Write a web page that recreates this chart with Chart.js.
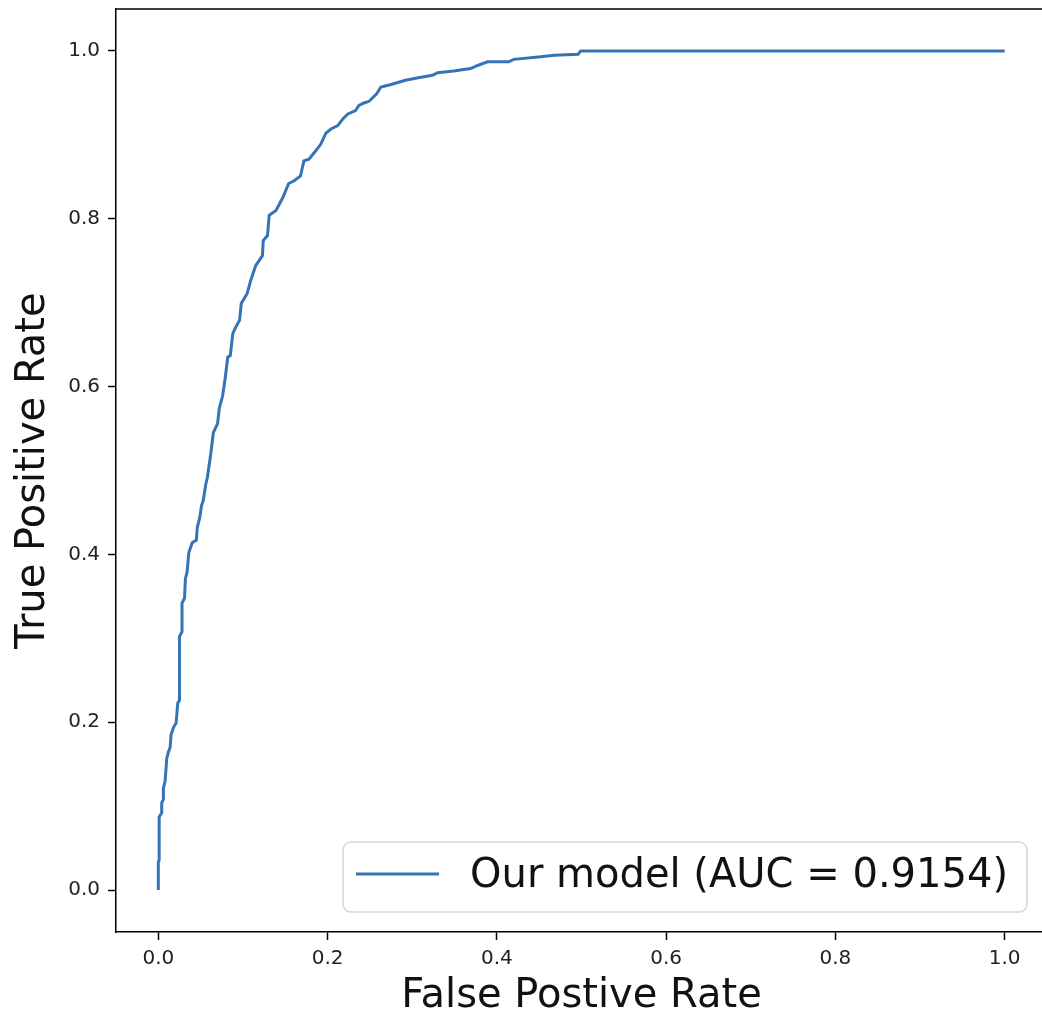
<!DOCTYPE html>
<html>
<head>
<meta charset="utf-8">
<script src="https://cdn.jsdelivr.net/npm/chart.js@4.4.1/dist/chart.umd.min.js"></script>
<style>
  html, body { margin: 0; padding: 0; background: #fff; overflow: hidden; }
  #wrap { position: absolute; left: 0; top: -11px; width: 1052px; height: 1027px; }
</style>
</head>
<body>
<div id="wrap"><canvas id="rocChart"></canvas></div>
<script>
// ROC curve
const fpr = [0, 0, 0.001, 0.001, 0.004, 0.004, 0.006, 0.006, 0.008, 0.010,
  0.012, 0.014, 0.015, 0.018, 0.021, 0.023, 0.025, 0.025, 0.028, 0.028,
  0.031, 0.032, 0.034, 0.036, 0.040, 0.045, 0.046, 0.049, 0.051, 0.053,
  0.056, 0.058, 0.062, 0.065, 0.070, 0.072, 0.076, 0.079, 0.082, 0.085,
  0.088, 0.091, 0.096, 0.098, 0.105, 0.109, 0.115, 0.123, 0.124, 0.129,
  0.131, 0.139, 0.147, 0.154, 0.160, 0.168, 0.172, 0.178, 0.186, 0.192,
  0.198, 0.204, 0.212, 0.218, 0.224, 0.233, 0.237, 0.243, 0.249, 0.258,
  0.263, 0.275, 0.292, 0.307, 0.324, 0.330, 0.349, 0.369, 0.378, 0.389,
  0.414, 0.420, 0.452, 0.468, 0.496, 0.499, 1.0];
const tpr = [0, 0.033, 0.036, 0.087, 0.092, 0.104, 0.108, 0.121, 0.130, 0.157,
  0.165, 0.170, 0.185, 0.194, 0.199, 0.223, 0.226, 0.302, 0.308, 0.342,
  0.348, 0.371, 0.379, 0.402, 0.414, 0.417, 0.432, 0.444, 0.458, 0.464,
  0.483, 0.492, 0.520, 0.545, 0.556, 0.574, 0.589, 0.610, 0.635, 0.637,
  0.663, 0.670, 0.679, 0.699, 0.711, 0.726, 0.744, 0.756, 0.774, 0.780,
  0.804, 0.810, 0.825, 0.842, 0.845, 0.851, 0.869, 0.871, 0.881, 0.889,
  0.902, 0.907, 0.911, 0.919, 0.925, 0.929, 0.935, 0.938, 0.940, 0.949,
  0.957, 0.960, 0.965, 0.968, 0.971, 0.974, 0.976, 0.979, 0.983, 0.987,
  0.987, 0.990, 0.993, 0.995, 0.996, 1.0, 1.0];
const tickValues = [0, 0.2, 0.4, 0.6, 0.8, 1.0];
const seriesLabel = "Our model (AUC = 0.9154)";
const xTitle = "False Postive Rate";
const yTitle = "True Positive Rate";

const FONT = "'DejaVu Sans', sans-serif";
const lineColor = '#3474b6';

// top/right spines like matplotlib
const framePlugin = {
    id: 'frame',
    afterDatasetsDraw(chart) {
        const { ctx, chartArea } = chart;
        ctx.save();
        ctx.strokeStyle = '#000';
        ctx.lineWidth = 1.5;
        ctx.beginPath();
        ctx.moveTo(chartArea.left, chartArea.top);
        ctx.lineTo(chartArea.right, chartArea.top);
        ctx.lineTo(chartArea.right, chartArea.bottom);
        ctx.stroke();
        ctx.restore();
    }
};

// legend box in the lower right corner
const legendPlugin = {
    id: 'lowerRightLegend',
    afterDraw(chart) {
        const { ctx, chartArea } = chart;
        const ds = chart.data.datasets[0];
        ctx.save();
        ctx.font = "40px " + FONT;
        const textW = ctx.measureText(ds.label).width;
        const boxRight = chartArea.right - 20;
        const boxBottom = chartArea.bottom - 20;
        const boxH = 70;
        const textX = boxRight - 19 - textW;
        const lineEnd = textX - 31;
        const lineStart = lineEnd - 83;
        const boxLeft = lineStart - 13;
        const boxTop = boxBottom - boxH;
        const midY = boxTop + boxH / 2;

        ctx.fillStyle = 'rgba(255,255,255,0.85)';
        ctx.strokeStyle = '#d6d6d6';
        ctx.lineWidth = 1.5;
        ctx.beginPath();
        ctx.roundRect(boxLeft, boxTop, boxRight - boxLeft, boxH, 8);
        ctx.fill();
        ctx.stroke();

        ctx.strokeStyle = ds.borderColor;
        ctx.lineWidth = 3;
        ctx.beginPath();
        ctx.moveTo(lineStart, midY - 3);
        ctx.lineTo(lineEnd, midY - 3);
        ctx.stroke();

        ctx.fillStyle = '#111';
        ctx.textBaseline = 'middle';
        ctx.textAlign = 'left';
        ctx.fillText(ds.label, textX, midY);
        ctx.restore();
    }
};

const points = fpr.map((x, i) => ({ x: x, y: tpr[i] }));

function fixedTicks(axis) {
    axis.ticks = tickValues.map(v => ({ value: v }));
}

const ctx = document.getElementById('rocChart').getContext('2d');
new Chart(ctx, {
    type: 'line',
    data: {
        datasets: [{
            label: seriesLabel,
            data: points,
            borderColor: lineColor,
            borderWidth: 3,
            pointRadius: 0,
            tension: 0,
            fill: false
        }]
    },
    options: {
        responsive: true,
        maintainAspectRatio: false,
        animation: false,
        layout: { padding: { left: 0, top: 9, right: 5, bottom: 0 } },
        plugins: {
            legend: { display: false },
            tooltip: { enabled: false },
            title: { display: false }
        },
        scales: {
            x: {
                type: 'linear',
                min: -0.05,
                max: 1.05,
                afterBuildTicks: fixedTicks,
                afterFit: s => { s.height = 84; },
                grid: { drawOnChartArea: false, drawTicks: true, tickLength: 8, color: '#000', tickWidth: 1.5 },
                border: { display: true, color: '#000', width: 1.5 },
                ticks: {
                    color: '#222',
                    font: { family: FONT, size: 20 },
                    padding: 7,
                    maxRotation: 0,
                    callback: v => v.toFixed(1)
                },
                title: {
                    display: true,
                    text: xTitle,
                    color: '#111',
                    font: { family: FONT, size: 40 },
                    padding: { top: 0, bottom: -5 }
                }
            },
            y: {
                type: 'linear',
                min: -0.05,
                max: 1.05,
                afterBuildTicks: fixedTicks,
                afterFit: s => { s.width = 116; },
                grid: { drawOnChartArea: false, drawTicks: true, tickLength: 8, color: '#000', tickWidth: 1.5 },
                border: { display: true, color: '#000', width: 1.5 },
                ticks: {
                    color: '#222',
                    font: { family: FONT, size: 20 },
                    padding: 8,
                    callback: v => v.toFixed(1)
                },
                title: {
                    display: true,
                    text: yTitle,
                    color: '#111',
                    font: { family: FONT, size: 40 },
                    padding: { top: 10, bottom: 0 }
                }
            }
        }
    },
    plugins: [framePlugin, legendPlugin]
});
</script>
</body>
</html>
